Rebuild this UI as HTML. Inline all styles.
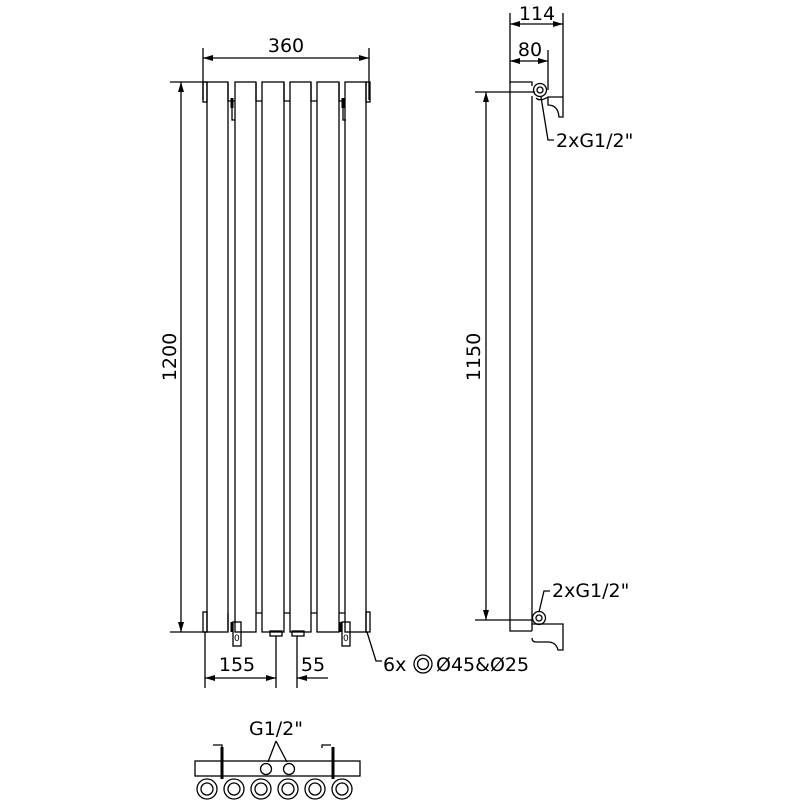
<!DOCTYPE html>
<html><head><style>html,body{margin:0;padding:0;background:#fff}svg{display:block}</style></head>
<body>
<svg width="800" height="800" viewBox="0 0 800 800" xmlns="http://www.w3.org/2000/svg" font-family="'DejaVu Sans','Liberation Sans',sans-serif">
<defs>
<marker id="a" markerWidth="10" markerHeight="6" refX="10" refY="3" orient="auto-start-reverse" markerUnits="userSpaceOnUse"><path d="M0,0 L10,3 L0,6z" fill="#000"/></marker>
</defs>
<g stroke="#000" stroke-width="1.3" fill="none">
<!-- front view columns -->
<rect x="207" y="82" width="21" height="550"/>
<rect x="235" y="82" width="21" height="550"/>
<rect x="262" y="82" width="22" height="550"/>
<rect x="290" y="82" width="21" height="550"/>
<rect x="317" y="82" width="22" height="550"/>
<rect x="345" y="82" width="21" height="550"/>
<!-- connectors -->
<path d="M228,83v18h7M256,83v18h6M284,83v18h6M311,83v18h6M339,83v18h6"/>
<path d="M228,613v18M256,613h6M284,613h6M311,613h6M339,613h6"/>
<rect x="203" y="82" width="4" height="20"/>
<rect x="366" y="82" width="4" height="20"/>
<rect x="203" y="612" width="4" height="20"/>
<rect x="366" y="612" width="4" height="20"/>
<!-- brackets -->
<path d="M232,98v22h3M343,98v22h3" stroke-width="1.3"/>
<path d="M232,98v10M343,98v10" stroke-width="3"/>
<rect x="233" y="622" width="8" height="24"/>
<rect x="342" y="622" width="8" height="24"/>
<path d="M232,622v10M341,622v10" stroke-width="3"/>
<rect x="270" y="631" width="12" height="5"/>
<rect x="292" y="631" width="12" height="5"/>
<!-- 360 dim -->
<path d="M203,48v52M369,48v52"/>
<line x1="203" y1="58" x2="369" y2="58" marker-start="url(#a)" marker-end="url(#a)"/>
<!-- 1200 dim -->
<path d="M170,82h37M170,632h37"/>
<line x1="181" y1="82" x2="181" y2="632" marker-start="url(#a)" marker-end="url(#a)"/>
<!-- bottom dims -->
<path d="M205,632v56M276,636v52M297,636v52"/>
<line x1="205" y1="678" x2="276" y2="678" marker-start="url(#a)" marker-end="url(#a)"/>
<line x1="297" y1="678" x2="328" y2="678" marker-start="url(#a)"/>
<path d="M367,632 L376,661 h6"/>
<circle cx="423" cy="664" r="9"/><circle cx="423" cy="664" r="5.5"/>
<!-- side view -->
<path d="M510,82v549h22M510,82h22v4M532,96v535"/>
<circle cx="540" cy="90" r="6.5"/><circle cx="540" cy="90" r="3"/>
<path d="M536,98 q4,4 12,-1 h15 M548,97 v8 q10,0 11,12 h4 v-20" />
<path d="M510,13v70M563,13v84M548,50v40"/>
<line x1="510" y1="24" x2="563" y2="24" marker-start="url(#a)" marker-end="url(#a)"/>
<line x1="510" y1="61" x2="548" y2="61" marker-start="url(#a)" marker-end="url(#a)"/>
<path d="M475,92h60M475,620h58"/>
<line x1="486" y1="92" x2="486" y2="620" marker-start="url(#a)" marker-end="url(#a)"/>
<path d="M541,97 L548,140 h6"/>
<circle cx="539" cy="618" r="6.5"/><circle cx="539" cy="618" r="3"/>
<path d="M532,624 h31 v26 h-5 q-2,-8 -10,-8 h-12 q-4,0 -4,-4"/>
<path d="M539,612 L544,591 h6"/>
<!-- bottom view -->
<rect x="195" y="761" width="165" height="15"/>
<circle cx="207" cy="789" r="10"/><circle cx="207" cy="789" r="6"/>
<circle cx="234" cy="789" r="10"/><circle cx="234" cy="789" r="6"/>
<circle cx="261" cy="789" r="10"/><circle cx="261" cy="789" r="6"/>
<circle cx="288" cy="789" r="10"/><circle cx="288" cy="789" r="6"/>
<circle cx="315" cy="789" r="10"/><circle cx="315" cy="789" r="6"/>
<circle cx="342" cy="789" r="10"/><circle cx="342" cy="789" r="6"/>
<circle cx="266" cy="769" r="5.5"/><circle cx="289" cy="769" r="5.5"/>
<path d="M276,741 L268,762 M276,741 L287,762"/>
<path d="M213,745h9v3M331,745h-9v3"/>
<path d="M222,747v32M333,747v32" stroke-width="3"/>
</g>
<g fill="#000" font-size="19">
<text x="286" y="52" text-anchor="middle">360</text>
<text transform="translate(176,357) rotate(-90)" text-anchor="middle">1200</text>
<text transform="translate(480,357) rotate(-90)" text-anchor="middle">1150</text>
<text x="237" y="671" text-anchor="middle">155</text>
<text x="313" y="671" text-anchor="middle">55</text>
<text x="383" y="671">6x</text>
<text x="436" y="671">Ø45&amp;Ø25</text>
<text x="537" y="20" text-anchor="middle">114</text>
<text x="530" y="56" text-anchor="middle">80</text>
<text x="556" y="147">2xG1/2"</text>
<text x="552" y="597">2xG1/2"</text>
<text x="276" y="735" text-anchor="middle">G1/2"</text>
</g>
<g fill="#000" font-size="9"><text x="234" y="641">0</text><text x="343" y="641">0</text></g>
</svg>
</body></html>
